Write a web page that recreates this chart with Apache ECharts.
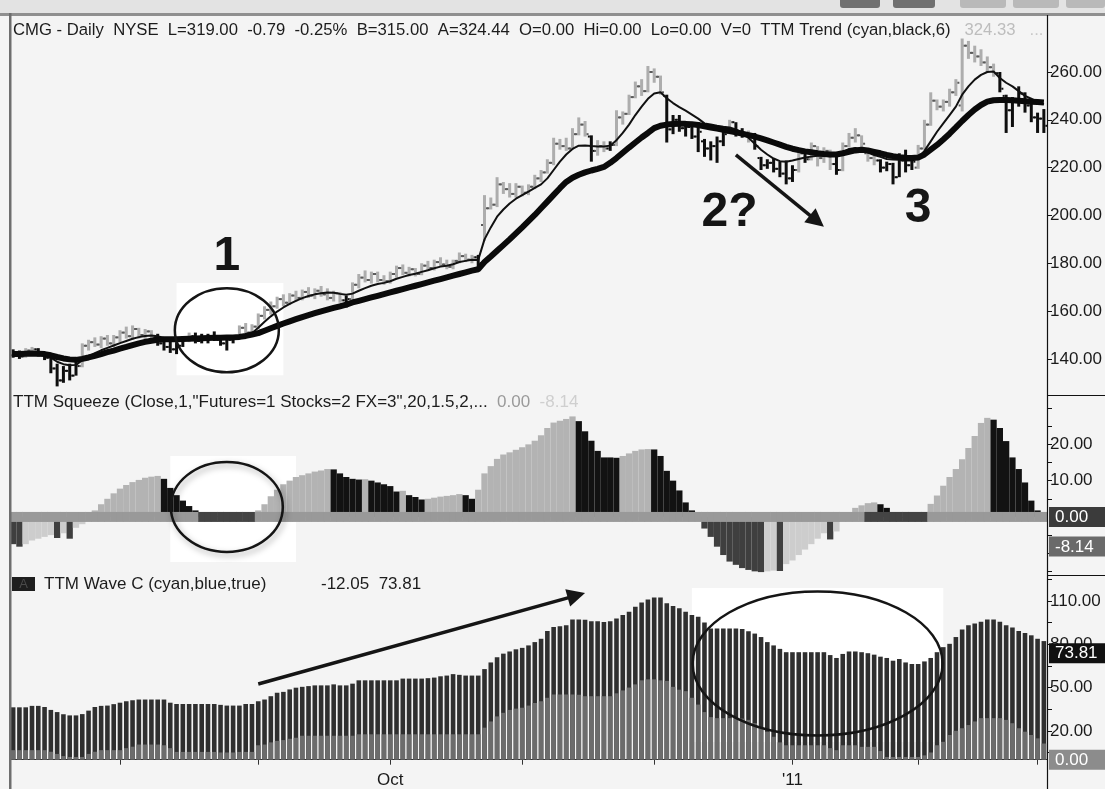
<!DOCTYPE html>
<html><head><meta charset="utf-8">
<script src="https://cdn.jsdelivr.net/npm/echarts@6/dist/echarts.min.js"></script>
<style>html,body{margin:0;padding:0;background:#f4f4f4}#c{width:1105px;height:789px}</style>
</head><body><div id="c"></div>
<script>
// ---- trading days (categories) ----
const jul10=[8,9,12,13,14,15,16,19,20,21,22,23,26,27,28,29,30];
const aug10=[2,3,4,5,6,9,10,11,12,13,16,17,18,19,20,23,24,25,26,27,30,31];
const sep10=[1,2,3,7,8,9,10,13,14,15,16,17,20,21,22,23,24,27,28,29,30];
const oct10=[1,4,5,6,7,8,11,12,13,14,15,18,19,20,21,22,25,26,27,28,29];
const nov10=[1,2,3,4,5,8,9,10,11,12,15,16,17,18,19,22,23,24,26,29,30];
const dec10=[1,2,3,6,7,8,9,10,13,14,15,16,17,20,21,22,23,27,28,29,30,31];
const jan11=[3,4,5,6,7,10,11,12,13,14,18,19,20,21,24,25,26,27,28,31];
const feb11=[1,2,3,4,7,8,9,10,11,14,15,16,17,18,22,23,24,25,28];
const mar11=[1,2];

// ---- price OHLC ----
const open=[141.5,142,141,143.5,144,142,140.5,136,131,135,
133,137,145.5,147,146,148.5,146.5,149,151,149.5,
152.5,150,151.5,149,146.5,145,144,145.5,148.5,149.5,
147.5,148,149,148,146.5,148,148.5,153,151,153.5,
158,160.5,162,165,163.5,166.5,165.5,168,166.5,168.5,
167,165.5,167.5,164.5,165,171,174,173,175.5,173,
172.5,175.5,178,176,177.5,175.5,179,178,180.5,179.5,
178.5,181,183,181.5,182.5,196,203,204.5,213,211,
209,212,209.5,212,215.5,218,222,230,229,228,
234,238,233,227,229,228,229.5,241,242.5,249.5,
254,252,260,258,250,236,240,236.5,237,233,
231,228,229,231,234.5,239,235,234,233,224,
221,222,219.5,217.5,215.5,219,226,223.5,229,224,
227,221.5,219,229,232.5,233.5,226,224,223,220,
221.5,216,223,221,220,228,238,248,245.5,247.5,
251.5,246,271,268,266.5,264,262,259.5,250,244,
248,251,246,241,240.5];
const high=[144,143.5,144.5,145,144.5,143,141,138,137,138,
139,146.5,148,149,149.5,150,150,152,153.5,154,
153,152.5,152,150.5,148.5,147.5,147,149.5,151,151,
150.5,150.5,151.5,150,149.5,150,154,155,154.5,159,
162,164,166,167,167.5,168.5,169,170,169.5,170.5,
169.5,168.5,168,166.5,172,175.5,177,176.5,176.5,175,
176.5,179,179.5,178.5,178,180,181,181.5,182.5,181.5,
181.5,184.5,184,183.5,183.5,208.5,207.5,216,214,213.5,
213.5,212.5,213,217,219,223.5,232.5,232,232.5,236.5,
241,239.5,233.5,231.5,231,231,244,243.5,250.5,256,
257,262.5,261.5,258.5,250.5,242,242,238.5,237.5,239,
232,231,233,236,240,239,236.5,235.5,234.5,224.5,
223.5,224,222.5,223,221,228.5,227,230.5,229,228.5,
227.5,226,230.5,234.5,236.5,233.5,226.5,225,223.5,222.5,
222,226,227.5,224.5,229.5,240,251.5,248.5,248.5,253,
257,274,273,271,269.5,266.5,263.5,260,250.5,249.5,
254,251.5,247,243,244.5];
const low=[140.5,140,140.5,142,141,139.5,134,128.5,130,131,
133,136.5,143.5,145,144.5,145.5,145,147,148.5,148,
148.5,147.5,147.5,145.5,143.5,142.5,142,145,147,146.5,
146.5,146.5,147.5,145.5,143.5,146.5,148,149.5,150,152.5,
156.5,158.5,161,162,162.5,164,164.5,165.5,165,166,
164.5,164,163.5,161.5,164.5,169.5,172,171.5,172,171,
171.5,174,175,174.5,174.5,175,177,177,178.5,177.5,
177.5,180,180.5,180,178.5,189.5,202.5,203.5,209,207.5,
207.5,208,208.5,211,214,217.5,221,227.5,227,227.5,
233.5,233,222.5,225,226.5,227,229,238,242,249,
250,251.5,255.5,250.5,230.5,234,235,233,232,226.5,
224.5,223,222,229,234,233,232.5,230.5,227.5,219,
219.5,218,216,213,214,218,222,223,220.5,222,
219,217,218.5,228.5,230.5,228.5,222.5,221,218,218.5,
213,216,218,219,219.5,227.5,237.5,244,243.5,245.5,
250,243.5,265.5,264,262.5,260,258,251.5,234.5,237,
245.5,243,239,234.5,234.5];
const close=[142,141,143.5,144,142,140.5,136,131,135,133,
137,145.5,147,146,148.5,146.5,149,151,149.5,152.5,
150,151.5,149,146.5,145,144,145.5,148.5,149.5,147.5,
148,149,148,146.5,148,148.5,153,151,153.5,158,
160.5,162,165,163.5,166.5,165.5,168,166.5,168.5,167,
165.5,167.5,164.5,165,171,174,173,175.5,173,172.5,
175.5,178,176,177.5,175.5,179,178,180.5,179.5,178.5,
181,183,181.5,182.5,180,203,204.5,213,211,209,
212,209.5,212,215.5,218,222,230,229,228,234,
238,234,227,229,228,229.5,241,242.5,249.5,254,
252,260,258,251.5,236,240,236.5,237,233,235,
228,229,231,234,239,235,234,233,229,221,
222,219.5,217.5,215.5,219,226,223.5,229,224,227,
221.5,219,229,232.5,233.5,230,224,223,220,221.5,
216,223,221,222.5,228,238,248,245.5,247.5,251.5,
255.5,271,268,266.5,264,262,259.5,253,244,248,
251,246,241,240.5,237.5];
// bar trend colour as read (1 = light/up-trend, 0 = black/down-trend)
const barTrend=('0011000000'+'0111111111'+'1110000010'+'0000001111'+'1111111111'+
'1110111111'+'1111111111'+'1111011111'+'1111111111'+'1101101111'+
'1111000000'+'0000100100'+'0000010111'+'1011111100'+'0000111111'+
'1111111000'+'00000').split('').map(Number);

// ---- TTM Trend averages (thin fast, thick slow) ----
const fastLine=[142.5,142.3,142.6,142.8,142.6,142,140.5,138.8,137.8,137.3,137.5,
139.5,141,142.4,143.6,144.6,145.6,146.6,147.5,148.4,149.1,149.6,149.8,149.5,148.8,
148.2,147.8,147.9,148.1,148.4,148.5,148.6,148.8,148.6,148.5,148.6,149.3,149.8,150.7,
153,155.5,157.8,159.8,161.5,163,164.3,165.4,166.3,167,167.5,167.8,167.7,167.2,166.8,
167.3,168.5,169.6,170.6,171.3,171.8,172.5,173.5,174.3,175.1,175.6,176.4,177.1,177.9,178.6,179,179.6,180.5,181,181.5,181.4,
190,195,199.5,202.5,205,207,208.5,210,211.5,213,215.5,219,222.5,225.5,227.8,229.2,229.3,229,228.8,228.8,229.2,231.5,234.5,238,242,245.5,248.8,251,251.5,
249,247,245.3,243.8,242.2,240.5,
238.5,238,237.5,237.1,236.8,236,234.5,232.5,230,227.5,225.5,223.8,222.7,222.5,223,223.6,224.2,224.6,225,225,224.8,225.2,226.5,227.8,228.2,227.5,226.3,225.3,224.5,223.6,223.4,223.3,223,223,224,227,231,235,238.5,242,245.5,250.5,254,256.8,258.8,260,260.2,257.5,255.5,254,252,250,248.8,247.5,246.5];
const slowLine=[142,142,142.2,142.3,142.2,142,141.5,140.8,140.2,139.8,139.6,
140,140.6,141.3,142,142.8,143.5,144.3,145,145.8,146.5,147.1,147.6,148,148.2,
148.2,148.2,148.3,148.4,148.5,148.6,148.7,148.8,148.8,148.9,149,149.2,149.6,150.2,
150.8,151.8,152.8,153.8,154.8,155.7,156.6,157.5,158.3,159.1,159.9,160.6,161.3,162,162.7,
163.6,164.3,165,165.7,166.4,167.1,167.8,168.5,169.2,169.9,170.6,171.3,172,172.7,173.4,174.1,174.8,175.5,176.2,176.9,177.5,
180.5,182.8,185.2,187.6,190,192.5,195,197.6,200.2,203,205.8,208.6,211.4,214,215.8,217,218,218.8,219.5,220.3,222,224,226.2,228.4,230.5,232.6,234.5,236.5,237.5,238,238.2,238.3,238.3,238.1,237.8,
237.3,236.8,236.3,235.8,235.3,234.8,234.2,233.6,233,232.2,231.4,230.5,229.6,228.7,227.9,227.3,226.8,226.4,226,225.7,225.5,225.5,226,226.6,227.2,227.5,227.2,226.6,226,225.3,224.8,224.4,224.1,224,224.2,225.5,227.5,229.5,231.8,234.2,236.8,239.5,242,244.3,246.2,247.6,248.2,248.3,248.3,248.2,248,247.8,247.6,247.4,247.2];

// ---- TTM Squeeze histogram ----
const squeeze=[-7.5,-8.2,-7.5,-6.5,-6,-5.5,-5,-5.8,-4.5,-6,
-3,-2,0.8,1.8,3.5,5,6.5,7.8,8.8,9.6,
10.2,10.8,11.1,11.3,10.5,8,6,4.5,3,1.8,
0.8,0.3,0.2,0.1,0.1,0.1,0.2,0.4,0.8,1.8,
3.5,5.7,7.5,9,10,11,11.5,12,12.5,12.8,
13.2,13.1,12,11,10.5,10.3,10.4,10,9.5,9,
8.5,7,7.2,6,5.5,4.8,5,5.3,5.6,5.8,
6,6.3,6,5,7.5,12,14,16,17.2,17.8,
18.5,19.2,20,21,22.5,24.5,26,26.5,27,27.7,
26.4,23.6,21,18.2,16.4,16.4,16.3,16.8,17.5,18.2,
18.6,18.7,18.6,16.8,12.7,10,7.3,4,1.8,0.3,
-3.2,-5.5,-8.2,-10.5,-12.3,-13.2,-14.1,-14.6,-15,-15.2,
-15,-14.8,-14.9,-13,-12,-10.5,-9,-7.5,-6,-4.5,
-6.2,-4,-1,0.5,2.5,3.2,3.8,4,3.5,2.5,
0,0,-0.3,0,0,0,3.6,5.9,8.6,11,
13.2,15.9,19,22.3,25.9,27.3,26.8,24.5,20.9,16.4,
13.2,9.5,4.5,1.8,0.2];
// squeeze state on the zero line (1 = squeeze on, dark dots)
const squeezeOn=('0000000000'+'0000000000'+'0000000000'+'1111111110'+'0000000000'+
'0000000000'+'0000000000'+'0000000000'+'0000000000'+'0000000000'+
'0000000000'+'0000000000'+'0000000000'+'0000001111'+'1111110000'+
'0000000000'+'00000').split('').map(Number);

// ---- TTM Wave C ----
const waveOuter=[36.3,36.3,36.3,37.3,37.3,36.5,34.5,33,31.5,30.7,
30.7,31.6,34,36.5,37.3,37.5,38.5,39.5,40.5,41.2,
41.7,41.7,41.7,41.7,41.7,39.5,38.6,38.6,38.6,38.6,
38.6,38.6,38.6,38,37.5,37.5,37.5,38.6,38.6,40.5,
41.7,44,46.4,47,48.7,49.9,50.5,51,51.5,51.5,
51.5,52.2,51.5,51.5,52.7,55,55,55,55,55,
55,55,56.2,56.2,56.2,56.2,56.5,56.9,57.8,58.3,
59.3,58.8,58.3,58.3,58.3,62.8,67.4,71,73.5,75,
76.5,77.5,79.2,81.5,83.8,89.2,92,92.5,93.2,97.2,
97.2,97,96,96,95.5,96,97.9,100.2,102.6,106,
109,111,112.4,112.4,108.4,106.6,104.9,102.6,100.2,99,
95,91,90.9,90.9,90.9,90.9,90.5,89,87.4,85,
81.5,79.2,76.8,74.5,74.5,74.5,74.5,74.5,74.5,74.5,
72.5,70.5,73.3,75,75,74.5,73.8,72.8,71.4,70.5,
68.6,69.8,67.4,66.3,66.3,68.1,70.5,74.5,78,80.3,
85,90.2,93.2,94.4,95.6,97.2,97.2,95.6,93.2,91.6,
89.2,87.8,86.2,83.8,82.2];
const waveInner=[6.6,6.6,6.6,6.6,6.6,6.6,5.5,4,2.5,1.9,
1.9,1.9,4,5.5,6.6,6.6,6.6,6.6,8,9,
10.5,10.5,10.5,10.5,10,8,5.4,5.4,5.4,5.4,
5.4,5.4,5.4,5,5,5,5.4,5.4,5.4,10,
10.5,12,13,13.6,14.5,15.2,16.6,16.6,16.6,16.6,
16.6,16.6,16.6,16.6,16.6,17.6,17.6,17.6,17.6,17.6,
17.6,17.6,17.6,17.6,17.6,17.6,17.6,17.6,17.6,17.6,
17.6,17.6,17.6,17.6,17.6,22.2,26.5,30,32.5,34.5,
35.4,36,37.5,39.3,40.5,42.9,45.2,45.2,45.2,45.2,
45,44,44,44,44,44,46,48,50,52.2,
55,55.7,55.7,55,54.6,50.5,48.5,47.5,42.9,38.2,
33,29.5,28.8,28.8,28.8,28.8,28.5,27.6,25.3,22,
19.4,15.9,12,10,10,10,10,10,10,10,
8,6.6,10,10,10,8.9,8.9,8.9,6,1.9,
1.9,1.9,1.9,1.9,1.9,3,5,10,12.4,17.1,
20,21.8,24,26.5,28.8,28.8,28.8,28.8,27.6,25.3,
21.8,19.4,17.1,14.8,11.2];

// ---- axis ticks / labels ----
const priceLabels=[140,160,180,200,220,240,260];
const sqzTicks=[-15,-10,-5,5,10,15,20,25,30];
const sqzLabels=[10,20];
const waveTicks=[5,20,35,50,65,80,95,110,125];
const waveLabels=[20,50,80,110];
const sqzMarks=[{v:0,t:'0.00',bg:'#3b3b3b'},{v:-8.14,t:'-8.14',bg:'#6a6a6a'}];
const waveMarks=[{v:73.81,t:'73.81',bg:'#111111'},{v:0,t:'0.00',bg:'#8c8c8c'}];
const xLabelText={'2010-10-01':'Oct','2011-01-03':"'11"};

// ---- build ----
const FONT='Arial, "Liberation Sans", sans-serif';
const dates=[];
[[2010,7,jul10],[2010,8,aug10],[2010,9,sep10],[2010,10,oct10],[2010,11,nov10],[2010,12,dec10],[2011,1,jan11],[2011,2,feb11],[2011,3,mar11]]
.forEach(([y,m,ds])=>ds.forEach(d=>dates.push(y+'-'+String(m).padStart(2,'0')+'-'+String(d).padStart(2,'0'))));
const monthStart=i=>i>0&&dates[i].slice(5,7)!==dates[i-1].slice(5,7);
const ohlc=dates.map((d,i)=>[i,open[i],high[i],low[i],close[i]]);
const sqzData=squeeze.map((v,i)=>{
  const p=i>0?squeeze[i-1]:v+1;
  const col=v>=0?(v>p?'#b3b3b3':'#121212'):(v<p?'#3f3f3f':'#cdcdcd');
  return {value:v,itemStyle:{color:col}};
});

const chart=echarts.init(document.getElementById('c'),null,{renderer:'canvas'});
const grids=[{left:10,right:58,top:17,height:378},{left:10,right:58,top:395,height:180},{left:10,right:58,top:575,height:187}];
const xAxes=[0,1,2].map(k=>({type:'category',gridIndex:k,data:dates,boundaryGap:true,
  axisLine:{show:k===2,lineStyle:{color:'#333',width:1}},
  axisTick:{show:k===2,alignWithLabel:true,length:5,lineStyle:{color:'#333'},interval:(i)=>monthStart(i)},
  axisLabel:{show:k===2,interval:(i)=>monthStart(i),formatter:v=>xLabelText[v]||'',color:'#1a1a1a',fontSize:17,fontFamily:FONT,margin:10},
  splitLine:{show:false}}));
const yBase={position:'right',axisLine:{show:false},splitLine:{show:false},
  axisTick:{show:true,length:5,lineStyle:{color:'#111'}},
  axisLabel:{color:'#1a1a1a',fontSize:17,fontFamily:FONT,margin:3,formatter:v=>Number(v).toFixed(2)}};
const yAxes=[
  Object.assign({},yBase,{gridIndex:0,min:124.9,max:283,axisTick:Object.assign({},yBase.axisTick,{customValues:priceLabels}),axisLabel:Object.assign({},yBase.axisLabel,{customValues:priceLabels})}),
  Object.assign({},yBase,{gridIndex:1,min:-16,max:33.6,axisTick:Object.assign({},yBase.axisTick,{customValues:sqzTicks}),axisLabel:Object.assign({},yBase.axisLabel,{customValues:sqzLabels})}),
  Object.assign({},yBase,{gridIndex:2,min:-1.6,max:128,axisTick:Object.assign({},yBase.axisTick,{customValues:waveTicks}),axisLabel:Object.assign({},yBase.axisLabel,{customValues:waveLabels})})
];

const option={
  animation:false,
  backgroundColor:'#f4f4f4',
  grid:grids, xAxis:xAxes, yAxis:yAxes,
  series:[
    {type:'custom',name:'CMG',xAxisIndex:0,yAxisIndex:0,z:3,data:ohlc,encode:{x:0,y:[1,2,3,4]},
     renderItem:(params,api)=>{
       const i=api.value(0);
       const ph=api.coord([i,api.value(2)]),pl=api.coord([i,api.value(3)]);
       const po=api.coord([i,api.value(1)]),pc=api.coord([i,api.value(4)]);
       const up=barTrend[params.dataIndex]===1;
       const col=up?'#adadad':'#0e0e0e', tk=up?'#5a5a5a':'#0e0e0e';
       return {type:'group',children:[
         {type:'rect',shape:{x:ph[0]-1.5,y:ph[1],width:3,height:Math.max(1.5,pl[1]-ph[1])},style:{fill:col}},
         {type:'rect',shape:{x:po[0]-3.5,y:po[1]-1,width:2,height:2},style:{fill:tk}},
         {type:'rect',shape:{x:pc[0]+1.5,y:pc[1]-1,width:2,height:2},style:{fill:tk}}
       ]};
     }},
    {type:'line',name:'fast',xAxisIndex:0,yAxisIndex:0,z:4,data:fastLine,symbol:'none',lineStyle:{color:'#111',width:2}},
    {type:'line',name:'slow',xAxisIndex:0,yAxisIndex:0,z:5,data:slowLine,symbol:'none',lineStyle:{color:'#0a0a0a',width:6}},
    {type:'bar',name:'squeeze',xAxisIndex:1,yAxisIndex:1,z:3,data:sqzData,barCategoryGap:'0%'},
    {type:'custom',name:'sqzdots',xAxisIndex:1,yAxisIndex:1,z:4,data:squeezeOn.map((s,i)=>[i,0,s]),encode:{x:0,y:1},
     renderItem:(params,api)=>{
       const p=api.coord([api.value(0),0]); const w=api.size([1,0])[0];
       return {type:'rect',shape:{x:p[0]-w/2-0.3,y:p[1]-5,width:w+0.6,height:10},style:{fill:api.value(2)?'#444':'#999'}};
     }},
    {type:'bar',name:'waveOuter',xAxisIndex:2,yAxisIndex:2,z:3,data:waveOuter,barWidth:4.6,barGap:'-100%',itemStyle:{color:'#2f2f2f'}},
    {type:'bar',name:'waveInner',xAxisIndex:2,yAxisIndex:2,z:4,data:waveInner,barWidth:4.6,barGap:'-100%',itemStyle:{color:'#6c6c6c'}}
  ]
};
chart.setOption(option);

// ---- annotations anchored in data space ----
const notes={
  patch1:{g:0,a:[25.8,171.7],b:[42.7,133.2]},
  ell1:{g:0,c:[34.3,152],rx:52,ry:42},
  one:{g:0,c:[34.3,182.6],t:'1'},
  arrowPrice:{g:0,from:[115.4,225.3],to:[128.7,195.3]},
  two:{g:0,c:[114,201],t:'2?'},
  three:{g:0,c:[143.9,203],t:'3'},
  patch2:{g:1,a:[24.7,16.8],b:[45.1,-12.4]},
  ell2:{g:1,c:[34.4,2.75],rx:56,ry:45},
  patch3:{g:2,a:[108,119],b:[148.2,12.3]},
  ell3:{g:2,c:[128.1,66.7],rx:125,ry:72},
  arrowWave:{g:2,from:[39.1,52.5],to:[91.2,115.5]}
};
const P=(g,pt)=>chart.convertToPixel({xAxisIndex:g,yAxisIndex:g},pt);
const G=[];
const INK='#151515';
function patch(n){const a=P(n.g,n.a),b=P(n.g,n.b);G.push({type:'rect',z:1,shape:{x:a[0],y:a[1],width:b[0]-a[0],height:b[1]-a[1]},style:{fill:'#ffffff'}});}
function ell(n,shadow){const c=P(n.g,n.c);G.push({type:'ellipse',z:50,shape:{cx:c[0],cy:c[1],rx:n.rx,ry:n.ry},
  style:Object.assign({fill:null,stroke:INK,lineWidth:2.5},shadow?{shadowBlur:6,shadowColor:'rgba(0,0,0,0.35)',shadowOffsetX:2,shadowOffsetY:3}:{})});}
function big(n){const c=P(n.g,n.c);G.push({type:'text',z:50,style:{x:c[0],y:c[1],text:n.t,fill:INK,font:'bold 48px '+FONT,align:'center',verticalAlign:'middle'}});}
function arrow(n,w,head){const p0=P(n.g,n.from),p1=P(n.g,n.to);
  const dx=p1[0]-p0[0],dy=p1[1]-p0[1],L=Math.hypot(dx,dy),ux=dx/L,uy=dy/L,bx=p1[0]-ux*head,by=p1[1]-uy*head,nx=-uy,ny=ux;
  G.push({type:'line',z:50,shape:{x1:p0[0],y1:p0[1],x2:bx+ux*2,y2:by+uy*2},style:{stroke:INK,lineWidth:w}});
  G.push({type:'polygon',z:50,shape:{points:[p1,[bx+nx*head*0.5,by+ny*head*0.5],[bx-nx*head*0.5,by-ny*head*0.5]]},style:{fill:INK}});}
patch(notes.patch1);patch(notes.patch2);patch(notes.patch3);
ell(notes.ell1,false);ell(notes.ell2,true);ell(notes.ell3,false);
big(notes.one);big(notes.two);big(notes.three);
arrow(notes.arrowPrice,3.5,18);arrow(notes.arrowWave,3.5,18);

// ---- value boxes on the right axis (positioned by the axis scale) ----
function valueBox(g,m){const y=P(g,[0,m.v])[1];
  G.push({type:'rect',z:70,shape:{x:1049,y:y-10,width:56,height:20},style:{fill:m.bg}});
  G.push({type:'text',z:71,style:{x:1055,y:y+0.5,verticalAlign:'middle',text:m.t,fill:'#ffffff',font:'17px '+FONT}});}
sqzMarks.forEach(m=>valueBox(1,m));
waveMarks.forEach(m=>valueBox(2,m));

// ---- window chrome & study titles ----
G.push({type:'rect',z:60,shape:{x:0,y:0,width:1105,height:13},style:{fill:'#e3e3e3'}});
G.push({type:'rect',z:60,shape:{x:0,y:13,width:1105,height:3},style:{fill:'#8f8f8f'}});
[[840,40,'#707070'],[893,42,'#707070'],[960,46,'#b9b9b9'],[1013,46,'#b9b9b9'],[1066,39,'#b9b9b9']].forEach(t=>
  G.push({type:'rect',z:61,shape:{x:t[0],y:-4,width:t[1],height:12,r:3},style:{fill:t[2]}}));
G.push({type:'rect',z:60,shape:{x:9,y:13,width:2.5,height:776},style:{fill:'#6e6e6e'}});
G.push({type:'line',z:60,shape:{x1:1047.5,y1:15,x2:1047.5,y2:789},style:{stroke:'#111',lineWidth:1.2}});
G.push({type:'line',z:60,shape:{x1:1047,y1:395.5,x2:1105,y2:395.5},style:{stroke:'#111',lineWidth:1.2}});
G.push({type:'line',z:60,shape:{x1:1047,y1:575.5,x2:1105,y2:575.5},style:{stroke:'#111',lineWidth:1.2}});
G.push({type:'text',z:62,style:{x:13,y:30,verticalAlign:'middle',font:'16.7px '+FONT,
  text:'{a|CMG - Daily  NYSE  L=319.00  -0.79  -0.25%  B=315.00  A=324.44  O=0.00  Hi=0.00  Lo=0.00  V=0  TTM Trend (cyan,black,6)}   {b|324.33}   {c|...}',
  rich:{a:{fill:'#1c1c1c',font:'16.7px '+FONT},b:{fill:'#bdbdbd',font:'16.7px '+FONT},c:{fill:'#c8c8c8',font:'16.7px '+FONT}}}});
G.push({type:'text',z:62,style:{x:13,y:402,verticalAlign:'middle',font:'17px '+FONT,
  text:'{a|TTM Squeeze (Close,1,"Futures=1 Stocks=2 FX=3",20,1.5,2,...}  {b|0.00}  {c|-8.14}',
  rich:{a:{fill:'#1c1c1c',font:'17px '+FONT},b:{fill:'#9a9a9a',font:'17px '+FONT},c:{fill:'#cfcfcf',font:'17px '+FONT}}}});
G.push({type:'rect',z:62,shape:{x:12,y:577,width:23,height:14},style:{fill:'#1e1e1e'}});
G.push({type:'text',z:63,style:{x:23.5,y:584,align:'center',verticalAlign:'middle',text:'A',fill:'#4a4a4a',font:'13px '+FONT}});
G.push({type:'text',z:62,style:{x:44,y:584,verticalAlign:'middle',font:'17px '+FONT,text:'TTM Wave C (cyan,blue,true)',fill:'#1c1c1c'}});
G.push({type:'text',z:62,style:{x:321,y:584,verticalAlign:'middle',font:'17px '+FONT,text:'-12.05  73.81',fill:'#1c1c1c'}});
chart.setOption({graphic:{elements:G}});
</script></body></html>
